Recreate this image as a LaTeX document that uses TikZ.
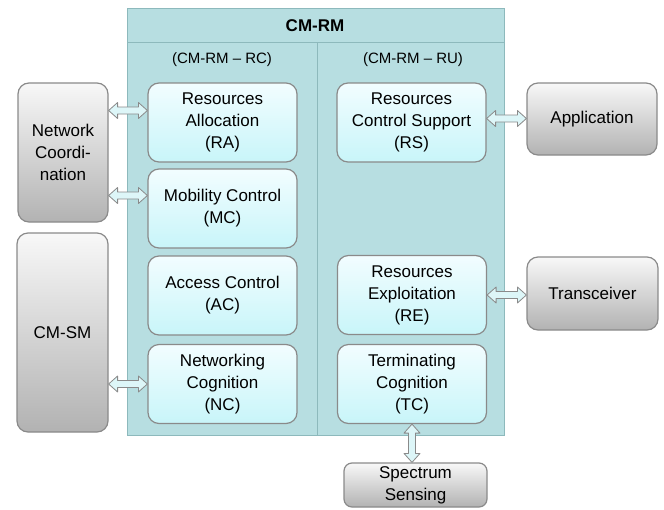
\documentclass[tikz,border=0pt]{standalone}
\usepackage{fontspec}
\setmainfont{Liberation Sans}
\usetikzlibrary{calc}

\definecolor{rmfill}{HTML}{B7DEE1}
\definecolor{rmline}{HTML}{8DB9BC}
\definecolor{boxtop}{HTML}{F2FDFF}
\definecolor{boxbot}{HTML}{C8F5F9}
\definecolor{greytop}{HTML}{F8F8F8}
\definecolor{greybot}{HTML}{B2B2B2}
\definecolor{edge}{HTML}{8A8A8A}
\definecolor{arrfill}{HTML}{DDF6F8}

\tikzset{
  func/.style={draw=edge, line width=1.2pt, rounded corners=11pt, top color=boxtop, bottom color=boxbot,
    minimum width=149pt, minimum height=79pt, align=center, inner sep=2pt, font=\fontsize{17}{22}\selectfont},
  ext/.style={draw=edge, line width=1.2pt, rounded corners=11pt, top color=greytop, bottom color=greybot,
    align=center, inner sep=2pt, font=\fontsize{17}{22}\selectfont},
  arrowbox/.style={draw=edge, fill=arrfill, line width=0.8pt, line join=round}
}

% hollow two-headed arrow between two points
\newcommand{\biarrow}[2]{%
  \draw[arrowbox] let \p1=($(#2)-(#1)$), \n1={veclen(\x1,\y1)}, \n2={atan2(\y1,\x1)} in
    [shift={(#1)}, rotate=\n2]
    (0pt,0pt) -- (9pt,8pt) -- (9pt,3.5pt) -- ({\n1-9pt},3.5pt) -- ({\n1-9pt},8pt) -- ({\n1},0pt)
    -- ({\n1-9pt},-8pt) -- ({\n1-9pt},-3.5pt) -- (9pt,-3.5pt) -- (9pt,-8pt) -- cycle;}

\begin{document}
\begin{tikzpicture}[x=1pt, y=-1pt]
        \useasboundingbox (0,0) rectangle (664,509);

        % The CM-RM frame with its two halves
        \draw[draw=rmline, fill=rmfill, line width=1pt] (127,8) rectangle (504,435);
        \draw[draw=rmline, line width=1pt] (127,42) -- (504,42);
        \draw[draw=rmline, line width=1pt] (317,42) -- (317,435);
        \node[font=\bfseries\fontsize{17}{20}\selectfont] (title) at (315,26) {CM-RM};
        \node[font=\fontsize{15}{18}\selectfont] (rc) at (222,60) {(CM-RM -- RC)};
        \node[font=\fontsize{15}{18}\selectfont] (ru) at (413,60) {(CM-RM -- RU)};

        % Functions of the RC half
        \node[func] (ra) at (222.5,122.5) {Resources\\Allocation\\(RA)};
        \node[func] (mc) at (222.5,208.5) {Mobility Control\\(MC)};
        \node[func] (ac) at (222.5,295.5) {Access Control\\(AC)};
        \node[func] (nc) at (222.5,384) {Networking\\Cognition\\(NC)};

        % Functions of the RU half
        \node[func] (rs) at (411.5,122.5) {Resources\\Control Support\\(RS)};
        \node[func] (re) at (412,295) {Resources\\Exploitation\\(RE)};
        \node[func] (tc) at (412,384) {Terminating\\Cognition\\(TC)};

        % Outside blocks
        \node[ext, minimum width=90pt, minimum height=139pt] (netco) at (63,152.5) {Network\\Coordi-\\nation};
        \node[ext, minimum width=91pt, minimum height=199pt] (cmsm) at (62.5,332.5) {CM-SM};
        \node[ext, minimum width=130pt, minimum height=72pt] (app) at (592,119) {Application};
        \node[ext, minimum width=131pt, minimum height=73pt] (trx) at (592.5,293.5) {Transceiver};
        \node[ext, minimum width=143pt, minimum height=44pt, rounded corners=8pt] (spec) at (415.5,485) {Spectrum\\Sensing};

        % Links
        \coordinate (raport) at ([yshift=12pt]ra.west);
        \coordinate (mcport) at ([yshift=13pt]mc.west);
        \coordinate (rsport) at ([yshift=4pt]rs.east);
        \biarrow{netco.east|-raport}{raport}
        \biarrow{netco.east|-mcport}{mcport}
        \biarrow{cmsm.east|-nc.west}{nc.west}
        \biarrow{rsport}{app.west|-rsport}
        \biarrow{re.east}{trx.west|-re.east}
        \biarrow{tc.south}{spec.north-|tc.south}

    \end{tikzpicture}
\end{document}
